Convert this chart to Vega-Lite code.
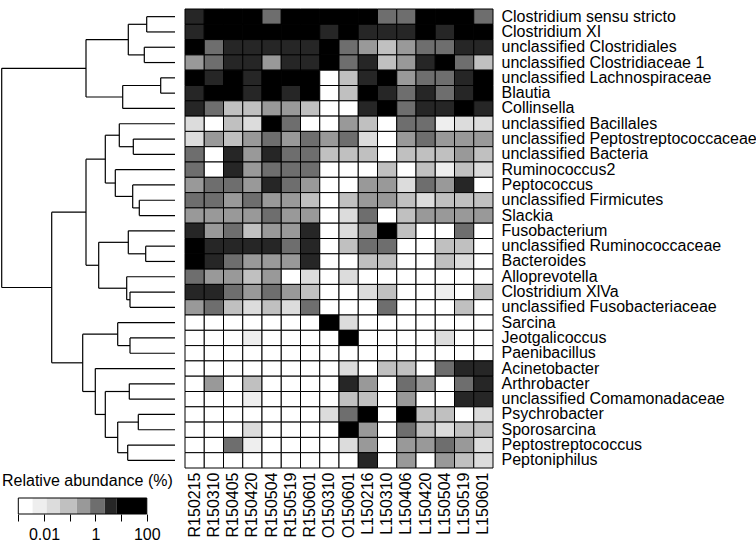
{
  "$schema": "https://vega.github.io/schema/vega-lite/v6.json",
  "padding": {"left": 0, "top": 8, "right": 0, "bottom": 0},
  "config": {"font": "Liberation Sans", "view": {"stroke": null}, "axis": {"grid": false}},
  "datasets": {
    "dendro": [
      {"h1":28.3,"h2":28.3,"y1":1,"y2":2},{"h1":0,"h2":28.3,"y1":1,"y2":1},{"h1":0,"h2":28.3,"y1":2,"y2":2},
      {"h1":30.7,"h2":30.7,"y1":3,"y2":4},{"h1":0,"h2":30.7,"y1":3,"y2":3},{"h1":0,"h2":30.7,"y1":4,"y2":4},
      {"h1":46.7,"h2":46.7,"y1":1.5,"y2":3.5},{"h1":28.3,"h2":46.7,"y1":1.5,"y2":1.5},{"h1":30.7,"h2":46.7,"y1":3.5,"y2":3.5},
      {"h1":14.3,"h2":14.3,"y1":5,"y2":6},{"h1":0,"h2":14.3,"y1":5,"y2":5},{"h1":0,"h2":14.3,"y1":6,"y2":6},
      {"h1":52.3,"h2":52.3,"y1":5.5,"y2":7},{"h1":14.3,"h2":52.3,"y1":5.5,"y2":5.5},{"h1":0,"h2":52.3,"y1":7,"y2":7},
      {"h1":89,"h2":89,"y1":2.5,"y2":6.25},{"h1":46.7,"h2":89,"y1":2.5,"y2":2.5},{"h1":52.3,"h2":89,"y1":6.25,"y2":6.25},
      {"h1":41.7,"h2":41.7,"y1":9,"y2":10},{"h1":0,"h2":41.7,"y1":9,"y2":9},{"h1":0,"h2":41.7,"y1":10,"y2":10},
      {"h1":55.7,"h2":55.7,"y1":8,"y2":9.5},{"h1":0,"h2":55.7,"y1":8,"y2":8},{"h1":41.7,"h2":55.7,"y1":9.5,"y2":9.5},
      {"h1":35.7,"h2":35.7,"y1":13,"y2":14},{"h1":0,"h2":35.7,"y1":13,"y2":13},{"h1":0,"h2":35.7,"y1":14,"y2":14},
      {"h1":42.3,"h2":42.3,"y1":12,"y2":13.5},{"h1":0,"h2":42.3,"y1":12,"y2":12},{"h1":35.7,"h2":42.3,"y1":13.5,"y2":13.5},
      {"h1":59.7,"h2":59.7,"y1":11,"y2":12.75},{"h1":0,"h2":59.7,"y1":11,"y2":11},{"h1":42.3,"h2":59.7,"y1":12.75,"y2":12.75},
      {"h1":69.7,"h2":69.7,"y1":8.75,"y2":11.875},{"h1":55.7,"h2":69.7,"y1":8.75,"y2":8.75},{"h1":59.7,"h2":69.7,"y1":11.875,"y2":11.875},
      {"h1":29.3,"h2":29.3,"y1":16,"y2":17},{"h1":0,"h2":29.3,"y1":16,"y2":16},{"h1":0,"h2":29.3,"y1":17,"y2":17},
      {"h1":46.7,"h2":46.7,"y1":15,"y2":16.5},{"h1":0,"h2":46.7,"y1":15,"y2":15},{"h1":29.3,"h2":46.7,"y1":16.5,"y2":16.5},
      {"h1":45,"h2":45,"y1":19,"y2":20},{"h1":0,"h2":45,"y1":19,"y2":19},{"h1":0,"h2":45,"y1":20,"y2":20},
      {"h1":48.3,"h2":48.3,"y1":18,"y2":19.5},{"h1":0,"h2":48.3,"y1":18,"y2":18},{"h1":45,"h2":48.3,"y1":19.5,"y2":19.5},
      {"h1":76.3,"h2":76.3,"y1":15.75,"y2":18.75},{"h1":46.7,"h2":76.3,"y1":15.75,"y2":15.75},{"h1":48.3,"h2":76.3,"y1":18.75,"y2":18.75},
      {"h1":89,"h2":89,"y1":10.3125,"y2":17.25},{"h1":69.7,"h2":89,"y1":10.3125,"y2":10.3125},{"h1":76.3,"h2":89,"y1":17.25,"y2":17.25},
      {"h1":45,"h2":45,"y1":22,"y2":23},{"h1":0,"h2":45,"y1":22,"y2":22},{"h1":0,"h2":45,"y1":23,"y2":23},
      {"h1":57.3,"h2":57.3,"y1":21,"y2":22.5},{"h1":0,"h2":57.3,"y1":21,"y2":21},{"h1":45,"h2":57.3,"y1":22.5,"y2":22.5},
      {"h1":45.7,"h2":45.7,"y1":25,"y2":26},{"h1":0,"h2":45.7,"y1":25,"y2":25},{"h1":0,"h2":45.7,"y1":26,"y2":26},
      {"h1":36.7,"h2":36.7,"y1":27,"y2":28},{"h1":0,"h2":36.7,"y1":27,"y2":27},{"h1":0,"h2":36.7,"y1":28,"y2":28},
      {"h1":47.3,"h2":47.3,"y1":29,"y2":30},{"h1":0,"h2":47.3,"y1":29,"y2":29},{"h1":0,"h2":47.3,"y1":30,"y2":30},
      {"h1":57.3,"h2":57.3,"y1":27.5,"y2":29.5},{"h1":36.7,"h2":57.3,"y1":27.5,"y2":27.5},{"h1":47.3,"h2":57.3,"y1":29.5,"y2":29.5},
      {"h1":69.7,"h2":69.7,"y1":25.5,"y2":28.5},{"h1":45.7,"h2":69.7,"y1":25.5,"y2":25.5},{"h1":57.3,"h2":69.7,"y1":28.5,"y2":28.5},
      {"h1":79.7,"h2":79.7,"y1":24,"y2":27},{"h1":0,"h2":79.7,"y1":24,"y2":24},{"h1":69.7,"h2":79.7,"y1":27,"y2":27},
      {"h1":92.3,"h2":92.3,"y1":21.75,"y2":25.5},{"h1":57.3,"h2":92.3,"y1":21.75,"y2":21.75},{"h1":79.7,"h2":92.3,"y1":25.5,"y2":25.5},
      {"h1":123.3,"h2":123.3,"y1":13.78125,"y2":23.625},{"h1":89,"h2":123.3,"y1":13.78125,"y2":13.78125},{"h1":92.3,"h2":123.3,"y1":23.625,"y2":23.625},
      {"h1":173.3,"h2":173.3,"y1":4.375,"y2":18.703125},{"h1":89,"h2":173.3,"y1":4.375,"y2":4.375},{"h1":123.3,"h2":173.3,"y1":18.703125,"y2":18.703125}
    ],
    "legendbins": [
      {"lo":0.001,"hi":0.0036,"pct":0.002},{"lo":0.0036,"hi":0.0126,"pct":0.007},{"lo":0.0126,"hi":0.042,"pct":0.02},
      {"lo":0.042,"hi":0.19,"pct":0.09},{"lo":0.19,"hi":0.62,"pct":0.35},{"lo":0.62,"hi":2.3,"pct":1.2},
      {"lo":2.3,"hi":6.8,"pct":4},{"lo":6.8,"hi":100,"pct":30}
    ],
    "legendframe": [{"lo":0.001,"hi":100}],
    "cells": [
      {"taxon":"Clostridium sensu stricto","sample":"R150215","pct":4},{"taxon":"Clostridium sensu stricto","sample":"R150310","pct":30},{"taxon":"Clostridium sensu stricto","sample":"R150405","pct":30},{"taxon":"Clostridium sensu stricto","sample":"R150420","pct":30},{"taxon":"Clostridium sensu stricto","sample":"R150504","pct":1.2},{"taxon":"Clostridium sensu stricto","sample":"R150519","pct":30},{"taxon":"Clostridium sensu stricto","sample":"R150601","pct":30},{"taxon":"Clostridium sensu stricto","sample":"O150310","pct":30},{"taxon":"Clostridium sensu stricto","sample":"O150601","pct":30},{"taxon":"Clostridium sensu stricto","sample":"L150216","pct":30},{"taxon":"Clostridium sensu stricto","sample":"L150310","pct":1.2},{"taxon":"Clostridium sensu stricto","sample":"L150406","pct":1.2},{"taxon":"Clostridium sensu stricto","sample":"L150420","pct":30},{"taxon":"Clostridium sensu stricto","sample":"L150504","pct":30},{"taxon":"Clostridium sensu stricto","sample":"L150519","pct":30},{"taxon":"Clostridium sensu stricto","sample":"L150601","pct":1.2},
      {"taxon":"Clostridium XI","sample":"R150215","pct":4},{"taxon":"Clostridium XI","sample":"R150310","pct":30},{"taxon":"Clostridium XI","sample":"R150405","pct":30},{"taxon":"Clostridium XI","sample":"R150420","pct":30},{"taxon":"Clostridium XI","sample":"R150504","pct":30},{"taxon":"Clostridium XI","sample":"R150519","pct":30},{"taxon":"Clostridium XI","sample":"R150601","pct":30},{"taxon":"Clostridium XI","sample":"O150310","pct":4},{"taxon":"Clostridium XI","sample":"O150601","pct":30},{"taxon":"Clostridium XI","sample":"L150216","pct":4},{"taxon":"Clostridium XI","sample":"L150310","pct":4},{"taxon":"Clostridium XI","sample":"L150406","pct":4},{"taxon":"Clostridium XI","sample":"L150420","pct":30},{"taxon":"Clostridium XI","sample":"L150504","pct":4},{"taxon":"Clostridium XI","sample":"L150519","pct":30},{"taxon":"Clostridium XI","sample":"L150601","pct":30},
      {"taxon":"unclassified Clostridiales","sample":"R150215","pct":30},{"taxon":"unclassified Clostridiales","sample":"R150310","pct":1.2},{"taxon":"unclassified Clostridiales","sample":"R150405","pct":4},{"taxon":"unclassified Clostridiales","sample":"R150420","pct":4},{"taxon":"unclassified Clostridiales","sample":"R150504","pct":4},{"taxon":"unclassified Clostridiales","sample":"R150519","pct":4},{"taxon":"unclassified Clostridiales","sample":"R150601","pct":4},{"taxon":"unclassified Clostridiales","sample":"O150310","pct":30},{"taxon":"unclassified Clostridiales","sample":"O150601","pct":1.2},{"taxon":"unclassified Clostridiales","sample":"L150216","pct":0.35},{"taxon":"unclassified Clostridiales","sample":"L150310","pct":0.1},{"taxon":"unclassified Clostridiales","sample":"L150406","pct":0.35},{"taxon":"unclassified Clostridiales","sample":"L150420","pct":1.2},{"taxon":"unclassified Clostridiales","sample":"L150504","pct":1.2},{"taxon":"unclassified Clostridiales","sample":"L150519","pct":4},{"taxon":"unclassified Clostridiales","sample":"L150601","pct":4},
      {"taxon":"unclassified Clostridiaceae 1","sample":"R150215","pct":0.35},{"taxon":"unclassified Clostridiaceae 1","sample":"R150310","pct":1.2},{"taxon":"unclassified Clostridiaceae 1","sample":"R150405","pct":4},{"taxon":"unclassified Clostridiaceae 1","sample":"R150420","pct":4},{"taxon":"unclassified Clostridiaceae 1","sample":"R150504","pct":0.35},{"taxon":"unclassified Clostridiaceae 1","sample":"R150519","pct":4},{"taxon":"unclassified Clostridiaceae 1","sample":"R150601","pct":4},{"taxon":"unclassified Clostridiaceae 1","sample":"O150310","pct":30},{"taxon":"unclassified Clostridiaceae 1","sample":"O150601","pct":1.2},{"taxon":"unclassified Clostridiaceae 1","sample":"L150216","pct":4},{"taxon":"unclassified Clostridiaceae 1","sample":"L150310","pct":0.1},{"taxon":"unclassified Clostridiaceae 1","sample":"L150406","pct":0.35},{"taxon":"unclassified Clostridiaceae 1","sample":"L150420","pct":4},{"taxon":"unclassified Clostridiaceae 1","sample":"L150504","pct":30},{"taxon":"unclassified Clostridiaceae 1","sample":"L150519","pct":1.2},{"taxon":"unclassified Clostridiaceae 1","sample":"L150601","pct":0.1},
      {"taxon":"unclassified Lachnospiraceae","sample":"R150215","pct":30},{"taxon":"unclassified Lachnospiraceae","sample":"R150310","pct":4},{"taxon":"unclassified Lachnospiraceae","sample":"R150405","pct":30},{"taxon":"unclassified Lachnospiraceae","sample":"R150420","pct":4},{"taxon":"unclassified Lachnospiraceae","sample":"R150504","pct":30},{"taxon":"unclassified Lachnospiraceae","sample":"R150519","pct":30},{"taxon":"unclassified Lachnospiraceae","sample":"R150601","pct":30},{"taxon":"unclassified Lachnospiraceae","sample":"O150310","pct":0},{"taxon":"unclassified Lachnospiraceae","sample":"O150601","pct":0.1},{"taxon":"unclassified Lachnospiraceae","sample":"L150216","pct":4},{"taxon":"unclassified Lachnospiraceae","sample":"L150310","pct":30},{"taxon":"unclassified Lachnospiraceae","sample":"L150406","pct":0.35},{"taxon":"unclassified Lachnospiraceae","sample":"L150420","pct":1.2},{"taxon":"unclassified Lachnospiraceae","sample":"L150504","pct":1.2},{"taxon":"unclassified Lachnospiraceae","sample":"L150519","pct":4},{"taxon":"unclassified Lachnospiraceae","sample":"L150601","pct":30},
      {"taxon":"Blautia","sample":"R150215","pct":4},{"taxon":"Blautia","sample":"R150310","pct":30},{"taxon":"Blautia","sample":"R150405","pct":30},{"taxon":"Blautia","sample":"R150420","pct":4},{"taxon":"Blautia","sample":"R150504","pct":30},{"taxon":"Blautia","sample":"R150519","pct":4},{"taxon":"Blautia","sample":"R150601","pct":30},{"taxon":"Blautia","sample":"O150310","pct":0},{"taxon":"Blautia","sample":"O150601","pct":0.1},{"taxon":"Blautia","sample":"L150216","pct":30},{"taxon":"Blautia","sample":"L150310","pct":4},{"taxon":"Blautia","sample":"L150406","pct":1.2},{"taxon":"Blautia","sample":"L150420","pct":4},{"taxon":"Blautia","sample":"L150504","pct":1.2},{"taxon":"Blautia","sample":"L150519","pct":4},{"taxon":"Blautia","sample":"L150601","pct":30},
      {"taxon":"Collinsella","sample":"R150215","pct":4},{"taxon":"Collinsella","sample":"R150310","pct":1.2},{"taxon":"Collinsella","sample":"R150405","pct":0.1},{"taxon":"Collinsella","sample":"R150420","pct":0.1},{"taxon":"Collinsella","sample":"R150504","pct":0.35},{"taxon":"Collinsella","sample":"R150519","pct":0.35},{"taxon":"Collinsella","sample":"R150601","pct":0.1},{"taxon":"Collinsella","sample":"O150310","pct":0},{"taxon":"Collinsella","sample":"O150601","pct":0},{"taxon":"Collinsella","sample":"L150216","pct":4},{"taxon":"Collinsella","sample":"L150310","pct":30},{"taxon":"Collinsella","sample":"L150406","pct":1.2},{"taxon":"Collinsella","sample":"L150420","pct":4},{"taxon":"Collinsella","sample":"L150504","pct":4},{"taxon":"Collinsella","sample":"L150519","pct":30},{"taxon":"Collinsella","sample":"L150601","pct":4},
      {"taxon":"unclassified Bacillales","sample":"R150215","pct":0.02},{"taxon":"unclassified Bacillales","sample":"R150310","pct":0},{"taxon":"unclassified Bacillales","sample":"R150405","pct":0.1},{"taxon":"unclassified Bacillales","sample":"R150420","pct":0.02},{"taxon":"unclassified Bacillales","sample":"R150504","pct":30},{"taxon":"unclassified Bacillales","sample":"R150519","pct":1.2},{"taxon":"unclassified Bacillales","sample":"R150601","pct":0},{"taxon":"unclassified Bacillales","sample":"O150310","pct":0},{"taxon":"unclassified Bacillales","sample":"O150601","pct":0.35},{"taxon":"unclassified Bacillales","sample":"L150216","pct":0.1},{"taxon":"unclassified Bacillales","sample":"L150310","pct":0},{"taxon":"unclassified Bacillales","sample":"L150406","pct":1.2},{"taxon":"unclassified Bacillales","sample":"L150420","pct":1.2},{"taxon":"unclassified Bacillales","sample":"L150504","pct":0.006},{"taxon":"unclassified Bacillales","sample":"L150519","pct":0.02},{"taxon":"unclassified Bacillales","sample":"L150601","pct":0.02},
      {"taxon":"unclassified Peptostreptococcaceae","sample":"R150215","pct":0.02},{"taxon":"unclassified Peptostreptococcaceae","sample":"R150310","pct":0.35},{"taxon":"unclassified Peptostreptococcaceae","sample":"R150405","pct":0.1},{"taxon":"unclassified Peptostreptococcaceae","sample":"R150420","pct":0.35},{"taxon":"unclassified Peptostreptococcaceae","sample":"R150504","pct":1.2},{"taxon":"unclassified Peptostreptococcaceae","sample":"R150519","pct":0.35},{"taxon":"unclassified Peptostreptococcaceae","sample":"R150601","pct":1.2},{"taxon":"unclassified Peptostreptococcaceae","sample":"O150310","pct":0.35},{"taxon":"unclassified Peptostreptococcaceae","sample":"O150601","pct":1.2},{"taxon":"unclassified Peptostreptococcaceae","sample":"L150216","pct":0.02},{"taxon":"unclassified Peptostreptococcaceae","sample":"L150310","pct":0},{"taxon":"unclassified Peptostreptococcaceae","sample":"L150406","pct":0.35},{"taxon":"unclassified Peptostreptococcaceae","sample":"L150420","pct":1.2},{"taxon":"unclassified Peptostreptococcaceae","sample":"L150504","pct":0.35},{"taxon":"unclassified Peptostreptococcaceae","sample":"L150519","pct":0.35},{"taxon":"unclassified Peptostreptococcaceae","sample":"L150601","pct":0.35},
      {"taxon":"unclassified Bacteria","sample":"R150215","pct":1.2},{"taxon":"unclassified Bacteria","sample":"R150310","pct":0},{"taxon":"unclassified Bacteria","sample":"R150405","pct":4},{"taxon":"unclassified Bacteria","sample":"R150420","pct":0.35},{"taxon":"unclassified Bacteria","sample":"R150504","pct":4},{"taxon":"unclassified Bacteria","sample":"R150519","pct":1.2},{"taxon":"unclassified Bacteria","sample":"R150601","pct":1.2},{"taxon":"unclassified Bacteria","sample":"O150310","pct":0.1},{"taxon":"unclassified Bacteria","sample":"O150601","pct":0.1},{"taxon":"unclassified Bacteria","sample":"L150216","pct":0.1},{"taxon":"unclassified Bacteria","sample":"L150310","pct":0},{"taxon":"unclassified Bacteria","sample":"L150406","pct":0.1},{"taxon":"unclassified Bacteria","sample":"L150420","pct":0.1},{"taxon":"unclassified Bacteria","sample":"L150504","pct":0.1},{"taxon":"unclassified Bacteria","sample":"L150519","pct":0.35},{"taxon":"unclassified Bacteria","sample":"L150601","pct":0.1},
      {"taxon":"Ruminococcus2","sample":"R150215","pct":1.2},{"taxon":"Ruminococcus2","sample":"R150310","pct":0},{"taxon":"Ruminococcus2","sample":"R150405","pct":4},{"taxon":"Ruminococcus2","sample":"R150420","pct":0.35},{"taxon":"Ruminococcus2","sample":"R150504","pct":1.2},{"taxon":"Ruminococcus2","sample":"R150519","pct":1.2},{"taxon":"Ruminococcus2","sample":"R150601","pct":1.2},{"taxon":"Ruminococcus2","sample":"O150310","pct":0},{"taxon":"Ruminococcus2","sample":"O150601","pct":0},{"taxon":"Ruminococcus2","sample":"L150216","pct":0},{"taxon":"Ruminococcus2","sample":"L150310","pct":0.1},{"taxon":"Ruminococcus2","sample":"L150406","pct":0},{"taxon":"Ruminococcus2","sample":"L150420","pct":0.1},{"taxon":"Ruminococcus2","sample":"L150504","pct":0.006},{"taxon":"Ruminococcus2","sample":"L150519","pct":0.1},{"taxon":"Ruminococcus2","sample":"L150601","pct":0.02},
      {"taxon":"Peptococcus","sample":"R150215","pct":0.35},{"taxon":"Peptococcus","sample":"R150310","pct":1.2},{"taxon":"Peptococcus","sample":"R150405","pct":1.2},{"taxon":"Peptococcus","sample":"R150420","pct":0.35},{"taxon":"Peptococcus","sample":"R150504","pct":4},{"taxon":"Peptococcus","sample":"R150519","pct":1.2},{"taxon":"Peptococcus","sample":"R150601","pct":0.35},{"taxon":"Peptococcus","sample":"O150310","pct":0},{"taxon":"Peptococcus","sample":"O150601","pct":0},{"taxon":"Peptococcus","sample":"L150216","pct":0.35},{"taxon":"Peptococcus","sample":"L150310","pct":0.35},{"taxon":"Peptococcus","sample":"L150406","pct":0.02},{"taxon":"Peptococcus","sample":"L150420","pct":1.2},{"taxon":"Peptococcus","sample":"L150504","pct":0.35},{"taxon":"Peptococcus","sample":"L150519","pct":4},{"taxon":"Peptococcus","sample":"L150601","pct":0},
      {"taxon":"unclassified Firmicutes","sample":"R150215","pct":1.2},{"taxon":"unclassified Firmicutes","sample":"R150310","pct":1.2},{"taxon":"unclassified Firmicutes","sample":"R150405","pct":0.35},{"taxon":"unclassified Firmicutes","sample":"R150420","pct":1.2},{"taxon":"unclassified Firmicutes","sample":"R150504","pct":0.35},{"taxon":"unclassified Firmicutes","sample":"R150519","pct":0.35},{"taxon":"unclassified Firmicutes","sample":"R150601","pct":0.1},{"taxon":"unclassified Firmicutes","sample":"O150310","pct":0},{"taxon":"unclassified Firmicutes","sample":"O150601","pct":0.1},{"taxon":"unclassified Firmicutes","sample":"L150216","pct":0.35},{"taxon":"unclassified Firmicutes","sample":"L150310","pct":0.35},{"taxon":"unclassified Firmicutes","sample":"L150406","pct":0.1},{"taxon":"unclassified Firmicutes","sample":"L150420","pct":0.02},{"taxon":"unclassified Firmicutes","sample":"L150504","pct":0.1},{"taxon":"unclassified Firmicutes","sample":"L150519","pct":0.1},{"taxon":"unclassified Firmicutes","sample":"L150601","pct":0.1},
      {"taxon":"Slackia","sample":"R150215","pct":0.35},{"taxon":"Slackia","sample":"R150310","pct":0.35},{"taxon":"Slackia","sample":"R150405","pct":0.35},{"taxon":"Slackia","sample":"R150420","pct":0.35},{"taxon":"Slackia","sample":"R150504","pct":1.2},{"taxon":"Slackia","sample":"R150519","pct":0.35},{"taxon":"Slackia","sample":"R150601","pct":0.35},{"taxon":"Slackia","sample":"O150310","pct":0},{"taxon":"Slackia","sample":"O150601","pct":0.02},{"taxon":"Slackia","sample":"L150216","pct":1.2},{"taxon":"Slackia","sample":"L150310","pct":0},{"taxon":"Slackia","sample":"L150406","pct":0.1},{"taxon":"Slackia","sample":"L150420","pct":0.35},{"taxon":"Slackia","sample":"L150504","pct":0.35},{"taxon":"Slackia","sample":"L150519","pct":0.35},{"taxon":"Slackia","sample":"L150601","pct":0.35},
      {"taxon":"Fusobacterium","sample":"R150215","pct":4},{"taxon":"Fusobacterium","sample":"R150310","pct":0.35},{"taxon":"Fusobacterium","sample":"R150405","pct":1.2},{"taxon":"Fusobacterium","sample":"R150420","pct":0.1},{"taxon":"Fusobacterium","sample":"R150504","pct":0.35},{"taxon":"Fusobacterium","sample":"R150519","pct":0.35},{"taxon":"Fusobacterium","sample":"R150601","pct":4},{"taxon":"Fusobacterium","sample":"O150310","pct":0},{"taxon":"Fusobacterium","sample":"O150601","pct":0.02},{"taxon":"Fusobacterium","sample":"L150216","pct":0.35},{"taxon":"Fusobacterium","sample":"L150310","pct":30},{"taxon":"Fusobacterium","sample":"L150406","pct":0.1},{"taxon":"Fusobacterium","sample":"L150420","pct":0},{"taxon":"Fusobacterium","sample":"L150504","pct":0},{"taxon":"Fusobacterium","sample":"L150519","pct":1.2},{"taxon":"Fusobacterium","sample":"L150601","pct":0},
      {"taxon":"unclassified Ruminococcaceae","sample":"R150215","pct":30},{"taxon":"unclassified Ruminococcaceae","sample":"R150310","pct":4},{"taxon":"unclassified Ruminococcaceae","sample":"R150405","pct":4},{"taxon":"unclassified Ruminococcaceae","sample":"R150420","pct":4},{"taxon":"unclassified Ruminococcaceae","sample":"R150504","pct":4},{"taxon":"unclassified Ruminococcaceae","sample":"R150519","pct":1.2},{"taxon":"unclassified Ruminococcaceae","sample":"R150601","pct":4},{"taxon":"unclassified Ruminococcaceae","sample":"O150310","pct":0},{"taxon":"unclassified Ruminococcaceae","sample":"O150601","pct":0.1},{"taxon":"unclassified Ruminococcaceae","sample":"L150216","pct":1.2},{"taxon":"unclassified Ruminococcaceae","sample":"L150310","pct":1.2},{"taxon":"unclassified Ruminococcaceae","sample":"L150406","pct":0},{"taxon":"unclassified Ruminococcaceae","sample":"L150420","pct":0},{"taxon":"unclassified Ruminococcaceae","sample":"L150504","pct":0.1},{"taxon":"unclassified Ruminococcaceae","sample":"L150519","pct":0.1},{"taxon":"unclassified Ruminococcaceae","sample":"L150601","pct":0},
      {"taxon":"Bacteroides","sample":"R150215","pct":30},{"taxon":"Bacteroides","sample":"R150310","pct":4},{"taxon":"Bacteroides","sample":"R150405","pct":1.2},{"taxon":"Bacteroides","sample":"R150420","pct":0.35},{"taxon":"Bacteroides","sample":"R150504","pct":0.35},{"taxon":"Bacteroides","sample":"R150519","pct":0.35},{"taxon":"Bacteroides","sample":"R150601","pct":4},{"taxon":"Bacteroides","sample":"O150310","pct":0},{"taxon":"Bacteroides","sample":"O150601","pct":0},{"taxon":"Bacteroides","sample":"L150216","pct":0.1},{"taxon":"Bacteroides","sample":"L150310","pct":0.1},{"taxon":"Bacteroides","sample":"L150406","pct":0},{"taxon":"Bacteroides","sample":"L150420","pct":0},{"taxon":"Bacteroides","sample":"L150504","pct":0.1},{"taxon":"Bacteroides","sample":"L150519","pct":0.02},{"taxon":"Bacteroides","sample":"L150601","pct":0},
      {"taxon":"Alloprevotella","sample":"R150215","pct":1.2},{"taxon":"Alloprevotella","sample":"R150310","pct":0.35},{"taxon":"Alloprevotella","sample":"R150405","pct":0.35},{"taxon":"Alloprevotella","sample":"R150420","pct":0.1},{"taxon":"Alloprevotella","sample":"R150504","pct":0.35},{"taxon":"Alloprevotella","sample":"R150519","pct":0},{"taxon":"Alloprevotella","sample":"R150601","pct":0.02},{"taxon":"Alloprevotella","sample":"O150310","pct":0},{"taxon":"Alloprevotella","sample":"O150601","pct":0.02},{"taxon":"Alloprevotella","sample":"L150216","pct":0},{"taxon":"Alloprevotella","sample":"L150310","pct":0},{"taxon":"Alloprevotella","sample":"L150406","pct":0},{"taxon":"Alloprevotella","sample":"L150420","pct":0},{"taxon":"Alloprevotella","sample":"L150504","pct":0},{"taxon":"Alloprevotella","sample":"L150519","pct":0},{"taxon":"Alloprevotella","sample":"L150601","pct":0},
      {"taxon":"Clostridium XlVa","sample":"R150215","pct":4},{"taxon":"Clostridium XlVa","sample":"R150310","pct":4},{"taxon":"Clostridium XlVa","sample":"R150405","pct":1.2},{"taxon":"Clostridium XlVa","sample":"R150420","pct":0.35},{"taxon":"Clostridium XlVa","sample":"R150504","pct":1.2},{"taxon":"Clostridium XlVa","sample":"R150519","pct":0.35},{"taxon":"Clostridium XlVa","sample":"R150601","pct":0.1},{"taxon":"Clostridium XlVa","sample":"O150310","pct":0},{"taxon":"Clostridium XlVa","sample":"O150601","pct":0},{"taxon":"Clostridium XlVa","sample":"L150216","pct":0.02},{"taxon":"Clostridium XlVa","sample":"L150310","pct":0.1},{"taxon":"Clostridium XlVa","sample":"L150406","pct":0},{"taxon":"Clostridium XlVa","sample":"L150420","pct":0},{"taxon":"Clostridium XlVa","sample":"L150504","pct":0.006},{"taxon":"Clostridium XlVa","sample":"L150519","pct":0},{"taxon":"Clostridium XlVa","sample":"L150601","pct":0.1},
      {"taxon":"unclassified Fusobacteriaceae","sample":"R150215","pct":0.35},{"taxon":"unclassified Fusobacteriaceae","sample":"R150310","pct":1.2},{"taxon":"unclassified Fusobacteriaceae","sample":"R150405","pct":0.1},{"taxon":"unclassified Fusobacteriaceae","sample":"R150420","pct":0.02},{"taxon":"unclassified Fusobacteriaceae","sample":"R150504","pct":0.1},{"taxon":"unclassified Fusobacteriaceae","sample":"R150519","pct":0.02},{"taxon":"unclassified Fusobacteriaceae","sample":"R150601","pct":1.2},{"taxon":"unclassified Fusobacteriaceae","sample":"O150310","pct":0},{"taxon":"unclassified Fusobacteriaceae","sample":"O150601","pct":0},{"taxon":"unclassified Fusobacteriaceae","sample":"L150216","pct":0},{"taxon":"unclassified Fusobacteriaceae","sample":"L150310","pct":1.2},{"taxon":"unclassified Fusobacteriaceae","sample":"L150406","pct":0},{"taxon":"unclassified Fusobacteriaceae","sample":"L150420","pct":0},{"taxon":"unclassified Fusobacteriaceae","sample":"L150504","pct":0},{"taxon":"unclassified Fusobacteriaceae","sample":"L150519","pct":0.1},{"taxon":"unclassified Fusobacteriaceae","sample":"L150601","pct":0},
      {"taxon":"Sarcina","sample":"R150215","pct":0},{"taxon":"Sarcina","sample":"R150310","pct":0},{"taxon":"Sarcina","sample":"R150405","pct":0},{"taxon":"Sarcina","sample":"R150420","pct":0},{"taxon":"Sarcina","sample":"R150504","pct":0},{"taxon":"Sarcina","sample":"R150519","pct":0},{"taxon":"Sarcina","sample":"R150601","pct":0},{"taxon":"Sarcina","sample":"O150310","pct":30},{"taxon":"Sarcina","sample":"O150601","pct":0.02},{"taxon":"Sarcina","sample":"L150216","pct":0},{"taxon":"Sarcina","sample":"L150310","pct":0},{"taxon":"Sarcina","sample":"L150406","pct":0},{"taxon":"Sarcina","sample":"L150420","pct":0},{"taxon":"Sarcina","sample":"L150504","pct":0},{"taxon":"Sarcina","sample":"L150519","pct":0},{"taxon":"Sarcina","sample":"L150601","pct":0},
      {"taxon":"Jeotgalicoccus","sample":"R150215","pct":0},{"taxon":"Jeotgalicoccus","sample":"R150310","pct":0},{"taxon":"Jeotgalicoccus","sample":"R150405","pct":0},{"taxon":"Jeotgalicoccus","sample":"R150420","pct":0.006},{"taxon":"Jeotgalicoccus","sample":"R150504","pct":0},{"taxon":"Jeotgalicoccus","sample":"R150519","pct":0},{"taxon":"Jeotgalicoccus","sample":"R150601","pct":0},{"taxon":"Jeotgalicoccus","sample":"O150310","pct":0},{"taxon":"Jeotgalicoccus","sample":"O150601","pct":30},{"taxon":"Jeotgalicoccus","sample":"L150216","pct":0},{"taxon":"Jeotgalicoccus","sample":"L150310","pct":0},{"taxon":"Jeotgalicoccus","sample":"L150406","pct":0},{"taxon":"Jeotgalicoccus","sample":"L150420","pct":0},{"taxon":"Jeotgalicoccus","sample":"L150504","pct":0.02},{"taxon":"Jeotgalicoccus","sample":"L150519","pct":0},{"taxon":"Jeotgalicoccus","sample":"L150601","pct":0},
      {"taxon":"Paenibacillus","sample":"R150215","pct":0},{"taxon":"Paenibacillus","sample":"R150310","pct":0},{"taxon":"Paenibacillus","sample":"R150405","pct":0},{"taxon":"Paenibacillus","sample":"R150420","pct":0},{"taxon":"Paenibacillus","sample":"R150504","pct":0},{"taxon":"Paenibacillus","sample":"R150519","pct":0},{"taxon":"Paenibacillus","sample":"R150601","pct":0},{"taxon":"Paenibacillus","sample":"O150310","pct":0},{"taxon":"Paenibacillus","sample":"O150601","pct":0},{"taxon":"Paenibacillus","sample":"L150216","pct":0},{"taxon":"Paenibacillus","sample":"L150310","pct":0},{"taxon":"Paenibacillus","sample":"L150406","pct":0},{"taxon":"Paenibacillus","sample":"L150420","pct":0},{"taxon":"Paenibacillus","sample":"L150504","pct":0},{"taxon":"Paenibacillus","sample":"L150519","pct":0},{"taxon":"Paenibacillus","sample":"L150601","pct":0},
      {"taxon":"Acinetobacter","sample":"R150215","pct":0},{"taxon":"Acinetobacter","sample":"R150310","pct":0},{"taxon":"Acinetobacter","sample":"R150405","pct":0},{"taxon":"Acinetobacter","sample":"R150420","pct":0},{"taxon":"Acinetobacter","sample":"R150504","pct":0},{"taxon":"Acinetobacter","sample":"R150519","pct":0},{"taxon":"Acinetobacter","sample":"R150601","pct":0},{"taxon":"Acinetobacter","sample":"O150310","pct":0},{"taxon":"Acinetobacter","sample":"O150601","pct":0.02},{"taxon":"Acinetobacter","sample":"L150216","pct":0},{"taxon":"Acinetobacter","sample":"L150310","pct":0.1},{"taxon":"Acinetobacter","sample":"L150406","pct":0.1},{"taxon":"Acinetobacter","sample":"L150420","pct":0},{"taxon":"Acinetobacter","sample":"L150504","pct":1.2},{"taxon":"Acinetobacter","sample":"L150519","pct":4},{"taxon":"Acinetobacter","sample":"L150601","pct":4},
      {"taxon":"Arthrobacter","sample":"R150215","pct":0},{"taxon":"Arthrobacter","sample":"R150310","pct":0.35},{"taxon":"Arthrobacter","sample":"R150405","pct":0},{"taxon":"Arthrobacter","sample":"R150420","pct":0.1},{"taxon":"Arthrobacter","sample":"R150504","pct":0},{"taxon":"Arthrobacter","sample":"R150519","pct":0},{"taxon":"Arthrobacter","sample":"R150601","pct":0},{"taxon":"Arthrobacter","sample":"O150310","pct":0},{"taxon":"Arthrobacter","sample":"O150601","pct":4},{"taxon":"Arthrobacter","sample":"L150216","pct":0.35},{"taxon":"Arthrobacter","sample":"L150310","pct":0},{"taxon":"Arthrobacter","sample":"L150406","pct":1.2},{"taxon":"Arthrobacter","sample":"L150420","pct":0.35},{"taxon":"Arthrobacter","sample":"L150504","pct":0},{"taxon":"Arthrobacter","sample":"L150519","pct":1.2},{"taxon":"Arthrobacter","sample":"L150601","pct":4},
      {"taxon":"unclassified Comamonadaceae","sample":"R150215","pct":0},{"taxon":"unclassified Comamonadaceae","sample":"R150310","pct":0},{"taxon":"unclassified Comamonadaceae","sample":"R150405","pct":0},{"taxon":"unclassified Comamonadaceae","sample":"R150420","pct":0.006},{"taxon":"unclassified Comamonadaceae","sample":"R150504","pct":0},{"taxon":"unclassified Comamonadaceae","sample":"R150519","pct":0},{"taxon":"unclassified Comamonadaceae","sample":"R150601","pct":0},{"taxon":"unclassified Comamonadaceae","sample":"O150310","pct":0},{"taxon":"unclassified Comamonadaceae","sample":"O150601","pct":0.1},{"taxon":"unclassified Comamonadaceae","sample":"L150216","pct":0.1},{"taxon":"unclassified Comamonadaceae","sample":"L150310","pct":0},{"taxon":"unclassified Comamonadaceae","sample":"L150406","pct":0.35},{"taxon":"unclassified Comamonadaceae","sample":"L150420","pct":0},{"taxon":"unclassified Comamonadaceae","sample":"L150504","pct":0},{"taxon":"unclassified Comamonadaceae","sample":"L150519","pct":4},{"taxon":"unclassified Comamonadaceae","sample":"L150601","pct":4},
      {"taxon":"Psychrobacter","sample":"R150215","pct":0},{"taxon":"Psychrobacter","sample":"R150310","pct":0},{"taxon":"Psychrobacter","sample":"R150405","pct":0},{"taxon":"Psychrobacter","sample":"R150420","pct":0},{"taxon":"Psychrobacter","sample":"R150504","pct":0},{"taxon":"Psychrobacter","sample":"R150519","pct":0},{"taxon":"Psychrobacter","sample":"R150601","pct":0},{"taxon":"Psychrobacter","sample":"O150310","pct":0.02},{"taxon":"Psychrobacter","sample":"O150601","pct":1.2},{"taxon":"Psychrobacter","sample":"L150216","pct":30},{"taxon":"Psychrobacter","sample":"L150310","pct":0},{"taxon":"Psychrobacter","sample":"L150406","pct":30},{"taxon":"Psychrobacter","sample":"L150420","pct":0.1},{"taxon":"Psychrobacter","sample":"L150504","pct":0.1},{"taxon":"Psychrobacter","sample":"L150519","pct":0},{"taxon":"Psychrobacter","sample":"L150601","pct":0.02},
      {"taxon":"Sporosarcina","sample":"R150215","pct":0},{"taxon":"Sporosarcina","sample":"R150310","pct":0},{"taxon":"Sporosarcina","sample":"R150405","pct":0},{"taxon":"Sporosarcina","sample":"R150420","pct":0.02},{"taxon":"Sporosarcina","sample":"R150504","pct":0},{"taxon":"Sporosarcina","sample":"R150519","pct":0},{"taxon":"Sporosarcina","sample":"R150601","pct":0},{"taxon":"Sporosarcina","sample":"O150310","pct":0},{"taxon":"Sporosarcina","sample":"O150601","pct":30},{"taxon":"Sporosarcina","sample":"L150216","pct":0.35},{"taxon":"Sporosarcina","sample":"L150310","pct":0},{"taxon":"Sporosarcina","sample":"L150406","pct":1.2},{"taxon":"Sporosarcina","sample":"L150420","pct":0.1},{"taxon":"Sporosarcina","sample":"L150504","pct":0.02},{"taxon":"Sporosarcina","sample":"L150519","pct":0.1},{"taxon":"Sporosarcina","sample":"L150601","pct":0.1},
      {"taxon":"Peptostreptococcus","sample":"R150215","pct":0},{"taxon":"Peptostreptococcus","sample":"R150310","pct":0},{"taxon":"Peptostreptococcus","sample":"R150405","pct":1.2},{"taxon":"Peptostreptococcus","sample":"R150420","pct":0.006},{"taxon":"Peptostreptococcus","sample":"R150504","pct":0},{"taxon":"Peptostreptococcus","sample":"R150519","pct":0},{"taxon":"Peptostreptococcus","sample":"R150601","pct":0},{"taxon":"Peptostreptococcus","sample":"O150310","pct":0},{"taxon":"Peptostreptococcus","sample":"O150601","pct":0.02},{"taxon":"Peptostreptococcus","sample":"L150216","pct":0.35},{"taxon":"Peptostreptococcus","sample":"L150310","pct":0},{"taxon":"Peptostreptococcus","sample":"L150406","pct":0.35},{"taxon":"Peptostreptococcus","sample":"L150420","pct":0.35},{"taxon":"Peptostreptococcus","sample":"L150504","pct":1.2},{"taxon":"Peptostreptococcus","sample":"L150519","pct":0.35},{"taxon":"Peptostreptococcus","sample":"L150601","pct":0.02},
      {"taxon":"Peptoniphilus","sample":"R150215","pct":0},{"taxon":"Peptoniphilus","sample":"R150310","pct":0},{"taxon":"Peptoniphilus","sample":"R150405","pct":0},{"taxon":"Peptoniphilus","sample":"R150420","pct":0},{"taxon":"Peptoniphilus","sample":"R150504","pct":0},{"taxon":"Peptoniphilus","sample":"R150519","pct":0},{"taxon":"Peptoniphilus","sample":"R150601","pct":0},{"taxon":"Peptoniphilus","sample":"O150310","pct":0},{"taxon":"Peptoniphilus","sample":"O150601","pct":0},{"taxon":"Peptoniphilus","sample":"L150216","pct":4},{"taxon":"Peptoniphilus","sample":"L150310","pct":0},{"taxon":"Peptoniphilus","sample":"L150406","pct":0.35},{"taxon":"Peptoniphilus","sample":"L150420","pct":0},{"taxon":"Peptoniphilus","sample":"L150504","pct":0.35},{"taxon":"Peptoniphilus","sample":"L150519","pct":0.1},{"taxon":"Peptoniphilus","sample":"L150601","pct":0.02}
    ]
  },
  "spacing": 8,
  "hconcat": [
    {
      "spacing": 4,
      "vconcat": [
        {
          "width": 175,
          "height": 459,
          "data": {"name": "dendro"},
          "mark": {"type": "rule", "color": "#000", "strokeWidth": 1.2},
          "encoding": {
            "x": {"field": "h1", "type": "quantitative", "scale": {"domain": [0, 175], "reverse": true, "nice": false, "zero": false}, "axis": null},
            "x2": {"field": "h2"},
            "y": {"field": "y1", "type": "quantitative", "scale": {"domain": [0.5, 30.5], "reverse": true, "nice": false, "zero": false}, "axis": null},
            "y2": {"field": "y2"}
          }
        },
        {
          "width": 175,
          "height": 16,
          "title": {"text": "Relative abundance (%)", "anchor": "start", "fontSize": 16, "fontWeight": "normal", "color": "#000", "offset": 9, "dx": 2},
          "layer": [
            {
              "data": {"name": "legendbins"},
              "mark": {"type": "rect"},
              "encoding": {
                "x": {"field": "lo", "type": "quantitative", "scale": {"type": "log", "domain": [0.000194, 1250], "nice": false},
                  "axis": {"values": [0.001, 0.01, 0.1, 1, 10, 100], "labelExpr": "datum.value == 0.01 ? '0.01' : datum.value == 1 ? '1' : datum.value == 100 ? '100' : ''", "domain": false, "tickSize": 7, "tickColor": "#000", "tickWidth": 1, "labelFontSize": 16, "labelColor": "#000", "labelPadding": 5, "title": null, "grid": false, "labelOverlap": false, "labelFlush": false}},
                "x2": {"field": "hi"},
                "color": {"field": "pct", "type": "quantitative", "legend": null,
                  "scale": {"type": "threshold", "domain": [0.0036, 0.0126, 0.042, 0.19, 0.62, 2.3, 6.8], "range": ["#ffffff", "#eeeeee", "#dcdcdc", "#c0c0c0", "#999999", "#6e6e6e", "#262626", "#000000"]}}
              }
            },
            {
              "data": {"name": "legendframe"},
              "mark": {"type": "rect", "fillOpacity": 0, "stroke": "#000", "strokeWidth": 1},
              "encoding": {
                "x": {"field": "lo", "type": "quantitative"},
                "x2": {"field": "hi"}
              }
            }
          ]
        }
      ]
    },
    {
      "width": 308,
      "height": 459,
      "data": {"name": "cells"},
      "mark": {"type": "rect", "stroke": "#000", "strokeWidth": 1},
      "encoding": {
        "x": {"field": "sample", "type": "nominal", "sort": null, "scale": {"paddingInner": 0, "paddingOuter": 0},
          "axis": {"orient": "bottom", "title": null, "labelAngle": -90, "ticks": false, "domain": false, "labelFontSize": 16, "labelColor": "#000", "labelPadding": 4, "labelOverlap": false}},
        "y": {"field": "taxon", "type": "nominal", "sort": null, "scale": {"paddingInner": 0, "paddingOuter": 0},
          "axis": {"orient": "right", "title": null, "ticks": false, "domain": false, "labelFontSize": 16, "labelColor": "#000", "labelPadding": 8, "labelLimit": 400, "labelOverlap": false}},
        "color": {"field": "pct", "type": "quantitative", "legend": null,
          "scale": {"type": "threshold", "domain": [0.0036, 0.0126, 0.042, 0.19, 0.62, 2.3, 6.8], "range": ["#ffffff", "#eeeeee", "#dcdcdc", "#c0c0c0", "#999999", "#6e6e6e", "#262626", "#000000"]}}
      }
    }
  ]
}
